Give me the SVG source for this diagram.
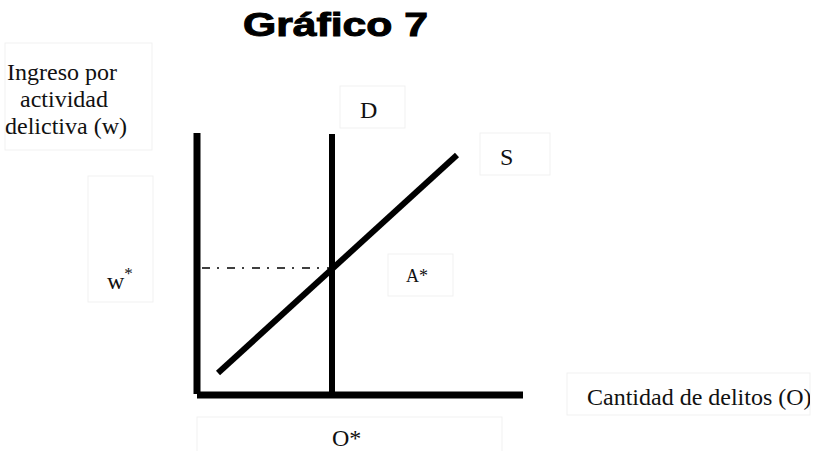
<svg xmlns="http://www.w3.org/2000/svg" width="818" height="451" viewBox="0 0 818 451">
  <style>
    .box { fill: #ffffff; stroke: #f1f1f1; stroke-width: 1; }
    .lbl { font-family: "Liberation Serif", "Times New Roman", serif; fill: #111111; }
    .ax { stroke: #000000; stroke-width: 7; stroke-linecap: butt; fill: none; }
    .curve { stroke: #000000; stroke-width: 6; fill: none; }
  </style>
  <defs>
    <clipPath id="clipQ"><rect x="567" y="373" width="243" height="42"/></clipPath>
  </defs>
  <rect x="0" y="0" width="818" height="451" fill="#ffffff"/>

  <g id="title">
    <text x="243" y="36" textLength="185" lengthAdjust="spacingAndGlyphs" font-family="'Liberation Sans', Arial, sans-serif" font-weight="bold" font-size="33" fill="#000" stroke="#000" stroke-width="1">Gráfico 7</text>
  </g>

  <g id="label-w-axis">
    <rect class="box" x="5" y="43" width="147" height="107"/>
    <text class="lbl" font-size="24" text-anchor="middle">
      <tspan x="65" y="80">Ingreso por</tspan>
      <tspan x="67" y="107">actividad</tspan>
      <tspan x="66" y="134">delictiva (w)</tspan>
    </text>
  </g>

  <g id="label-wstar">
    <rect class="box" x="88" y="176" width="65" height="126"/>
    <text class="lbl" x="107" y="289" font-size="24">w<tspan font-size="17" dy="-10">*</tspan></text>
  </g>

  <g id="label-D">
    <rect class="box" x="340" y="86" width="65" height="42"/>
    <text class="lbl" x="360" y="118" font-size="24">D</text>
  </g>

  <g id="label-S">
    <rect class="box" x="480" y="133" width="70" height="42"/>
    <text class="lbl" x="500" y="165" font-size="24">S</text>
  </g>

  <g id="label-Astar">
    <rect class="box" x="388" y="254" width="65" height="42"/>
    <text class="lbl" x="406" y="282" font-size="18">A*</text>
  </g>

  <g id="label-Ostar">
    <rect class="box" x="197" y="417" width="305" height="40"/>
    <text class="lbl" x="332" y="446" font-size="24">O*</text>
  </g>

  <g id="label-quantity">
    <rect class="box" x="567" y="373" width="243" height="42"/>
    <text class="lbl" x="587" y="405" font-size="24" clip-path="url(#clipQ)">Cantidad de delitos (O)</text>
  </g>

  <g id="connectors">
    <line id="y-axis" class="ax" x1="197" y1="133" x2="197" y2="394"/>
    <line id="x-axis" class="ax" x1="197" y1="395" x2="523" y2="395"/>
    <line id="demand" class="curve" x1="332" y1="134" x2="332" y2="392"/>
    <line id="supply" class="curve" x1="218" y1="373" x2="457" y2="155"/>
    <line id="w-guide" x1="202" y1="268" x2="330" y2="268" stroke="#000" stroke-width="1.6" stroke-dasharray="8 7 2 8"/>
  </g>
</svg>
